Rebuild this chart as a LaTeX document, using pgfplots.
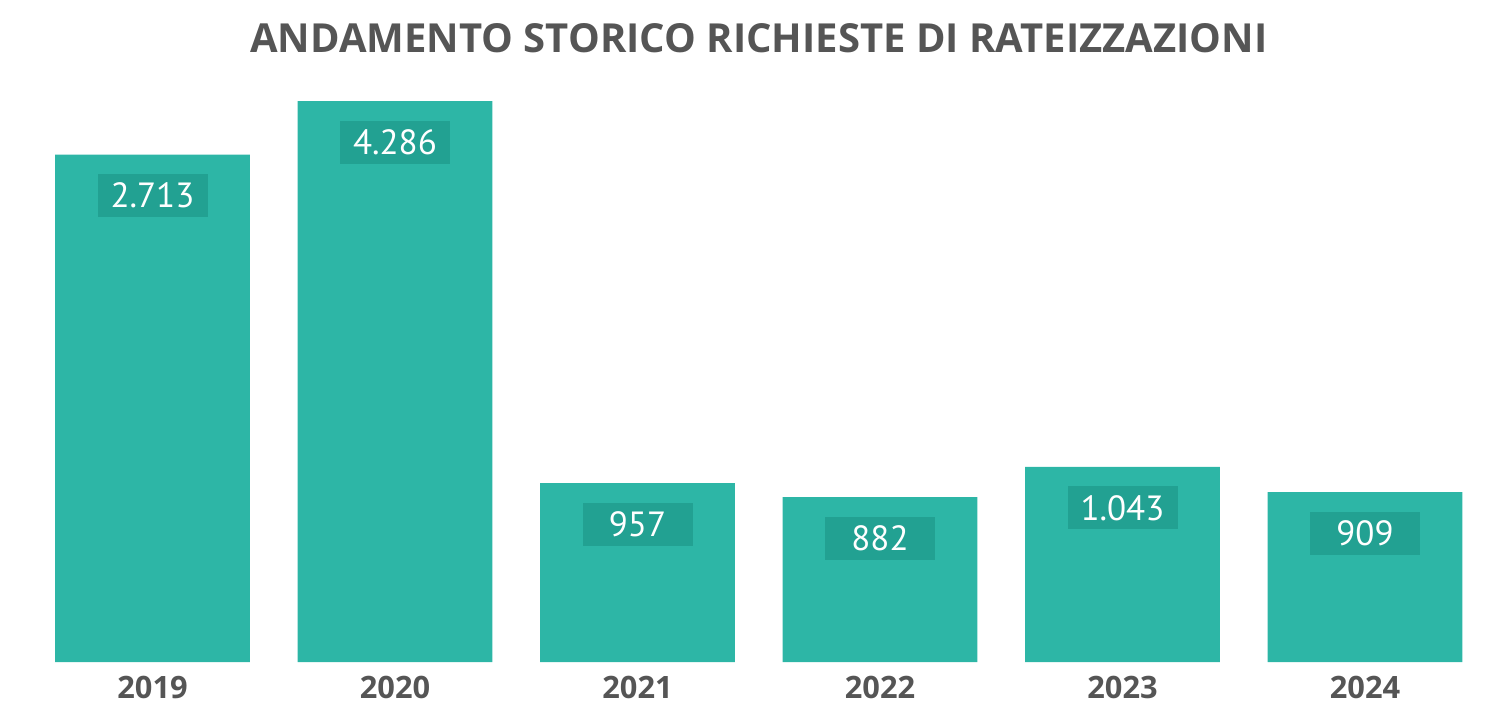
\documentclass[border=0pt]{standalone}
\usepackage{fontspec}
\setmainfont{Open Sans}
\newfontfamily\numfont{PT Sans}
\usepackage{pgfplots}
\usepackage{pgfplotstable}
\pgfplotsset{compat=1.18}

\definecolor{barteal}{HTML}{2DB6A6}
\definecolor{boxteal}{HTML}{22A192}
\definecolor{txtgray}{HTML}{555555}

\pgfplotstableread{
x v lbl
0 2713 2.713
1 4286 4.286
2 957 957
3 882 882
4 1043 1.043
5 909 909
}\datatable

\begin{document}
\begin{tikzpicture}
\path[use as bounding box] (-15.625pt,-20.5pt) rectangle (726.875pt,331pt);
\begin{axis}[
  scale only axis,
  width=727.5pt,
  height=280.5pt,
  ybar,
  bar shift=0pt,
  bar width=0.804,
  xmin=-0.5, xmax=5.5,
  ymin=0, ymax=3000,
  xtick=data,
  xticklabels={2019,2020,2021,2022,2023,2024},
  xticklabel style={font=\bfseries\fontsize{15.4}{16}\selectfont, text=txtgray,
    anchor=base, yshift=-18pt, inner sep=0pt},
  ytick=\empty,
  major tick length=0pt,
  axis line style={draw=none},
  title={ANDAMENTO STORICO RICHIESTE DI RATEIZZAZIONI},
  title style={font=\bfseries\fontsize{20}{22}\selectfont, text=txtgray,
    at={(0.5,1)}, anchor=base, yshift=18pt, inner sep=0pt},
]
\addplot[fill=barteal, draw=none] table[x=x, y=v] {\datatable};
\addplot[draw=none, fill=none, forget plot,
  point meta=explicit symbolic,
  nodes near coords,
  nodes near coords style={anchor=center, yshift=-20.5pt,
    font=\numfont\fontsize{17.5}{19}\selectfont, text=white,
    fill=boxteal, minimum width=55pt, minimum height=21.5pt, inner sep=0pt}]
  table[x=x, y expr={min(\thisrow{v},3000)}, meta=lbl] {\datatable};
\end{axis}
\end{tikzpicture}
\end{document}
